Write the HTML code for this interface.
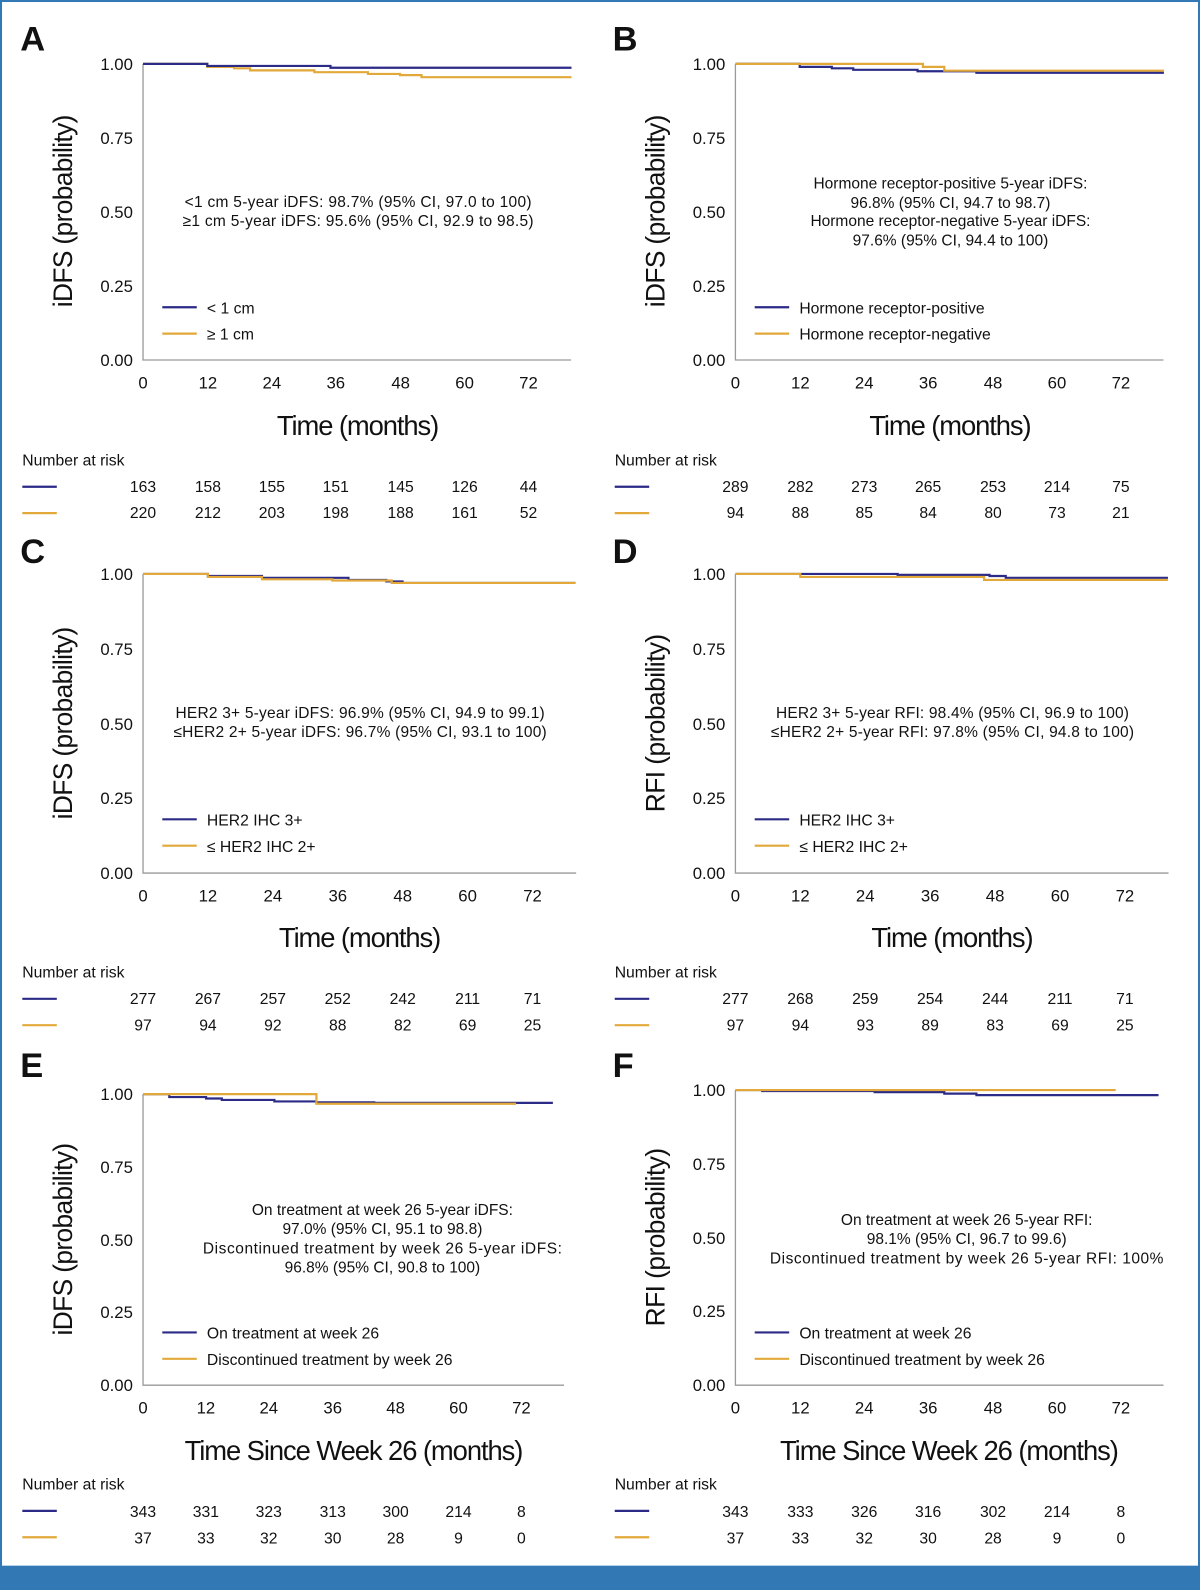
<!DOCTYPE html>
<html><head><meta charset="utf-8"><style>
html,body{margin:0;padding:0;background:#fff}
svg{display:block}
text{font-family:"Liberation Sans",sans-serif;fill:#111}
.t{font-size:16.5px}
.a{font-size:15.3px;text-anchor:middle}
.ttl{font-size:27px}
.yt{font-size:26px}
.pl{font-size:34px;font-weight:bold}
.ax{stroke:#9a9a9a;stroke-width:1.3;fill:none}
.b{stroke:#2b2a86;stroke-width:2.2;fill:none;vector-effect:non-scaling-stroke}
.o{stroke:#e2a93a;stroke-width:2.2;fill:none;vector-effect:non-scaling-stroke}
.m{text-anchor:middle}
.e{text-anchor:end}
</style></head><body>
<svg width="1200" height="1590" viewBox="0 0 1183 1568" preserveAspectRatio="none" xmlns="http://www.w3.org/2000/svg">
<rect x="0" y="0" width="1183" height="1568" fill="#fff"/>
<rect x="1" y="1" width="1181" height="1566" fill="none" stroke="#3178b4" stroke-width="2"/>
<rect x="0" y="1544" width="1183" height="24" fill="#3178b4"/>

<!-- A -->
<g>
<text x="20" y="50" class="pl">A</text>
<path class="ax" d="M141,63 V355 H563"/>
<g class="t e"><text x="131" y="69">1.00</text><text x="131" y="142">0.75</text><text x="131" y="215">0.50</text><text x="131" y="288">0.25</text><text x="131" y="361">0.00</text></g>
<g class="t m"><text x="141" y="383">0</text><text x="205" y="383">12</text><text x="268" y="383">24</text><text x="331" y="383">36</text><text x="395" y="383">48</text><text x="458" y="383">60</text><text x="521" y="383">72</text></g>
<text class="yt m" transform="translate(71,208) rotate(-90)" textLength="190">iDFS (probability)</text>
<text class="ttl m" x="353" y="429" textLength="160">Time (months)</text>
<text class="a" x="353" y="204" textLength="342">&lt;1 cm 5-year iDFS: 98.7% (95% CI, 97.0 to 100)</text>
<text class="a" x="353" y="223" textLength="346">≥1 cm 5-year iDFS: 95.6% (95% CI, 92.9 to 98.5)</text>
<line x1="160" y1="303" x2="194" y2="303" class="b"/><text class="t" x="204" y="309" style="font-size:15.5px">&lt; 1 cm</text>
<line x1="160" y1="329" x2="194" y2="329" class="o"/><text class="t" x="204" y="335" style="font-size:15.5px">≥ 1 cm</text>
<g transform="translate(141,355) scale(5.28,-292)">
<path class="o" d="M0,1H12V.99H17V.985H20V.978H32V.972H42V.966H48V.962H52V.955H80"/>
<path class="b" d="M0,1H12V.993H35V.987H80"/>
</g>
<text class="t" x="22" y="459" style="font-size:15.5px">Number at risk</text>
<line x1="22" y1="480" x2="56" y2="480" class="b"/><line x1="22" y1="506" x2="56" y2="506" class="o"/>
<g class="t m" style="font-size:15.5px"><text x="141" y="485">163</text><text x="205" y="485">158</text><text x="268" y="485">155</text><text x="331" y="485">151</text><text x="395" y="485">145</text><text x="458" y="485">126</text><text x="521" y="485">44</text>
<text x="141" y="511">220</text><text x="205" y="511">212</text><text x="268" y="511">203</text><text x="331" y="511">198</text><text x="395" y="511">188</text><text x="458" y="511">161</text><text x="521" y="511">52</text></g>
</g>

<!-- B -->
<g transform="translate(584,0)">
<text x="20" y="50" class="pl">B</text>
<path class="ax" d="M141,63 V355 H563"/>
<g class="t e"><text x="131" y="69">1.00</text><text x="131" y="142">0.75</text><text x="131" y="215">0.50</text><text x="131" y="288">0.25</text><text x="131" y="361">0.00</text></g>
<g class="t m"><text x="141" y="383">0</text><text x="205" y="383">12</text><text x="268" y="383">24</text><text x="331" y="383">36</text><text x="395" y="383">48</text><text x="458" y="383">60</text><text x="521" y="383">72</text></g>
<text class="yt m" transform="translate(71,208) rotate(-90)" textLength="190">iDFS (probability)</text>
<text class="ttl m" x="353" y="429" textLength="160">Time (months)</text>
<text class="a" x="353" y="186">Hormone receptor-positive 5-year iDFS:</text>
<text class="a" x="353" y="205">96.8% (95% CI, 94.7 to 98.7)</text>
<text class="a" x="353" y="223">Hormone receptor-negative 5-year iDFS:</text>
<text class="a" x="353" y="242">97.6% (95% CI, 94.4 to 100)</text>
<line x1="160" y1="303" x2="194" y2="303" class="b"/><text class="t" x="204" y="309" style="font-size:15.5px">Hormone receptor-positive</text>
<line x1="160" y1="329" x2="194" y2="329" class="o"/><text class="t" x="204" y="335" style="font-size:15.5px">Hormone receptor-negative</text>
<g transform="translate(141,355) scale(5.28,-292)">
<path class="b" d="M0,1H12V.99H18V.985H22V.98H34V.975H45V.97H80"/>
<path class="o" d="M0,1H35V.99H39V.977H80"/>
</g>
<text class="t" x="22" y="459" style="font-size:15.5px">Number at risk</text>
<line x1="22" y1="480" x2="56" y2="480" class="b"/><line x1="22" y1="506" x2="56" y2="506" class="o"/>
<g class="t m" style="font-size:15.5px"><text x="141" y="485">289</text><text x="205" y="485">282</text><text x="268" y="485">273</text><text x="331" y="485">265</text><text x="395" y="485">253</text><text x="458" y="485">214</text><text x="521" y="485">75</text>
<text x="141" y="511">94</text><text x="205" y="511">88</text><text x="268" y="511">85</text><text x="331" y="511">84</text><text x="395" y="511">80</text><text x="458" y="511">73</text><text x="521" y="511">21</text></g>
</g>

<!-- C -->
<g transform="translate(0,503)">
<text x="20" y="52" class="pl">C</text>
<path class="ax" d="M141,63 V358 H568"/>
<g class="t e"><text x="131" y="69">1.00</text><text x="131" y="143">0.75</text><text x="131" y="217">0.50</text><text x="131" y="290">0.25</text><text x="131" y="364">0.00</text></g>
<g class="t m"><text x="141" y="386">0</text><text x="205" y="386">12</text><text x="269" y="386">24</text><text x="333" y="386">36</text><text x="397" y="386">48</text><text x="461" y="386">60</text><text x="525" y="386">72</text></g>
<text class="yt m" transform="translate(71,210) rotate(-90)" textLength="190">iDFS (probability)</text>
<text class="ttl m" x="355" y="431" textLength="160">Time (months)</text>
<text class="a" x="355" y="205" textLength="364">HER2 3+ 5-year iDFS: 96.9% (95% CI, 94.9 to 99.1)</text>
<text class="a" x="355" y="224" textLength="368">≤HER2 2+ 5-year iDFS: 96.7% (95% CI, 93.1 to 100)</text>
<line x1="160" y1="305" x2="194" y2="305" class="b"/><text class="t" x="204" y="311" style="font-size:15.5px">HER2 IHC 3+</text>
<line x1="160" y1="331" x2="194" y2="331" class="o"/><text class="t" x="204" y="337" style="font-size:15.5px">≤ HER2 IHC 2+</text>
<g transform="translate(141,358) scale(5.33,-295)">
<path class="b" d="M0,1H12V.993H22V.987H38V.98H45V.975H48V.97H80"/>
<path class="o" d="M0,1H12V.99H22V.982H35V.978H46V.97H80"/>
</g>
<text class="t" x="22" y="461" style="font-size:15.5px">Number at risk</text>
<line x1="22" y1="482" x2="56" y2="482" class="b"/><line x1="22" y1="508" x2="56" y2="508" class="o"/>
<g class="t m" style="font-size:15.5px"><text x="141" y="487">277</text><text x="205" y="487">267</text><text x="269" y="487">257</text><text x="333" y="487">252</text><text x="397" y="487">242</text><text x="461" y="487">211</text><text x="525" y="487">71</text>
<text x="141" y="513">97</text><text x="205" y="513">94</text><text x="269" y="513">92</text><text x="333" y="513">88</text><text x="397" y="513">82</text><text x="461" y="513">69</text><text x="525" y="513">25</text></g>
</g>

<!-- D -->
<g transform="translate(584,503)">
<text x="20" y="52" class="pl">D</text>
<path class="ax" d="M141,63 V358 H568"/>
<g class="t e"><text x="131" y="69">1.00</text><text x="131" y="143">0.75</text><text x="131" y="217">0.50</text><text x="131" y="290">0.25</text><text x="131" y="364">0.00</text></g>
<g class="t m"><text x="141" y="386">0</text><text x="205" y="386">12</text><text x="269" y="386">24</text><text x="333" y="386">36</text><text x="397" y="386">48</text><text x="461" y="386">60</text><text x="525" y="386">72</text></g>
<text class="yt m" transform="translate(71,210) rotate(-90)" textLength="176">RFI (probability)</text>
<text class="ttl m" x="355" y="431" textLength="160">Time (months)</text>
<text class="a" x="355" y="205" textLength="348">HER2 3+ 5-year RFI: 98.4% (95% CI, 96.9 to 100)</text>
<text class="a" x="355" y="224" textLength="358">≤HER2 2+ 5-year RFI: 97.8% (95% CI, 94.8 to 100)</text>
<line x1="160" y1="305" x2="194" y2="305" class="b"/><text class="t" x="204" y="311" style="font-size:15.5px">HER2 IHC 3+</text>
<line x1="160" y1="331" x2="194" y2="331" class="o"/><text class="t" x="204" y="337" style="font-size:15.5px">≤ HER2 IHC 2+</text>
<g transform="translate(141,358) scale(5.33,-295)">
<path class="b" d="M0,1H30V.997H47V.993H50V.987H80"/>
<path class="o" d="M0,1H12V.99H46V.98H80"/>
</g>
<text class="t" x="22" y="461" style="font-size:15.5px">Number at risk</text>
<line x1="22" y1="482" x2="56" y2="482" class="b"/><line x1="22" y1="508" x2="56" y2="508" class="o"/>
<g class="t m" style="font-size:15.5px"><text x="141" y="487">277</text><text x="205" y="487">268</text><text x="269" y="487">259</text><text x="333" y="487">254</text><text x="397" y="487">244</text><text x="461" y="487">211</text><text x="525" y="487">71</text>
<text x="141" y="513">97</text><text x="205" y="513">94</text><text x="269" y="513">93</text><text x="333" y="513">89</text><text x="397" y="513">83</text><text x="461" y="513">69</text><text x="525" y="513">25</text></g>
</g>

<!-- E -->
<g>
<text x="20" y="1062" class="pl">E</text>
<path class="ax" d="M141,1079 V1366 H556"/>
<g class="t e"><text x="131" y="1085">1.00</text><text x="131" y="1157">0.75</text><text x="131" y="1229">0.50</text><text x="131" y="1300">0.25</text><text x="131" y="1372">0.00</text></g>
<g class="t m"><text x="141" y="1394">0</text><text x="203" y="1394">12</text><text x="265" y="1394">24</text><text x="328" y="1394">36</text><text x="390" y="1394">48</text><text x="452" y="1394">60</text><text x="514" y="1394">72</text></g>
<text class="yt m" transform="translate(71,1222) rotate(-90)" textLength="190">iDFS (probability)</text>
<text class="ttl m" x="349" y="1440" textLength="334">Time Since Week 26 (months)</text>
<text class="a" x="377" y="1198">On treatment at week 26 5-year iDFS:</text>
<text class="a" x="377" y="1217">97.0% (95% CI, 95.1 to 98.8)</text>
<text class="a" x="377" y="1236" textLength="354">Discontinued treatment by week 26 5-year iDFS:</text>
<text class="a" x="377" y="1255">96.8% (95% CI, 90.8 to 100)</text>
<line x1="160" y1="1314" x2="194" y2="1314" class="b"/><text class="t" x="204" y="1320" style="font-size:15.5px">On treatment at week 26</text>
<line x1="160" y1="1340" x2="194" y2="1340" class="o"/><text class="t" x="204" y="1346" style="font-size:15.5px">Discontinued treatment by week 26</text>
<g transform="translate(141,1366) scale(5.18,-287)">
<path class="b" d="M0,1H5V.99H12V.985H15V.98H25V.975H33V.972H44V.97H78"/>
<path class="o" d="M0,1H33V.967H71"/>
</g>
<text class="t" x="22" y="1469" style="font-size:15.5px">Number at risk</text>
<line x1="22" y1="1490" x2="56" y2="1490" class="b"/><line x1="22" y1="1516" x2="56" y2="1516" class="o"/>
<g class="t m" style="font-size:15.5px"><text x="141" y="1496">343</text><text x="203" y="1496">331</text><text x="265" y="1496">323</text><text x="328" y="1496">313</text><text x="390" y="1496">300</text><text x="452" y="1496">214</text><text x="514" y="1496">8</text>
<text x="141" y="1522">37</text><text x="203" y="1522">33</text><text x="265" y="1522">32</text><text x="328" y="1522">30</text><text x="390" y="1522">28</text><text x="452" y="1522">9</text><text x="514" y="1522">0</text></g>
</g>

<!-- F -->
<g transform="translate(584,0)">
<text x="20" y="1062" class="pl">F</text>
<path class="ax" d="M141,1075 V1366 H563"/>
<g class="t e"><text x="131" y="1081">1.00</text><text x="131" y="1154">0.75</text><text x="131" y="1227">0.50</text><text x="131" y="1299">0.25</text><text x="131" y="1372">0.00</text></g>
<g class="t m"><text x="141" y="1394">0</text><text x="205" y="1394">12</text><text x="268" y="1394">24</text><text x="331" y="1394">36</text><text x="395" y="1394">48</text><text x="458" y="1394">60</text><text x="521" y="1394">72</text></g>
<text class="yt m" transform="translate(71,1220) rotate(-90)" textLength="176">RFI (probability)</text>
<text class="ttl m" x="352" y="1440" textLength="334">Time Since Week 26 (months)</text>
<text class="a" x="369" y="1208">On treatment at week 26 5-year RFI:</text>
<text class="a" x="369" y="1227">98.1% (95% CI, 96.7 to 99.6)</text>
<text class="a" x="369" y="1246" textLength="388">Discontinued treatment by week 26 5-year RFI: 100%</text>
<line x1="160" y1="1314" x2="194" y2="1314" class="b"/><text class="t" x="204" y="1320" style="font-size:15.5px">On treatment at week 26</text>
<line x1="160" y1="1340" x2="194" y2="1340" class="o"/><text class="t" x="204" y="1346" style="font-size:15.5px">Discontinued treatment by week 26</text>
<g transform="translate(141,1366) scale(5.28,-291)">
<path class="b" d="M0,1H5V.997H26V.993H39V.988H45V.983H79"/>
<path class="o" d="M0,1H71"/>
</g>
<text class="t" x="22" y="1469" style="font-size:15.5px">Number at risk</text>
<line x1="22" y1="1490" x2="56" y2="1490" class="b"/><line x1="22" y1="1516" x2="56" y2="1516" class="o"/>
<g class="t m" style="font-size:15.5px"><text x="141" y="1496">343</text><text x="205" y="1496">333</text><text x="268" y="1496">326</text><text x="331" y="1496">316</text><text x="395" y="1496">302</text><text x="458" y="1496">214</text><text x="521" y="1496">8</text>
<text x="141" y="1522">37</text><text x="205" y="1522">33</text><text x="268" y="1522">32</text><text x="331" y="1522">30</text><text x="395" y="1522">28</text><text x="458" y="1522">9</text><text x="521" y="1522">0</text></g>
</g>
</svg>
</body></html>
